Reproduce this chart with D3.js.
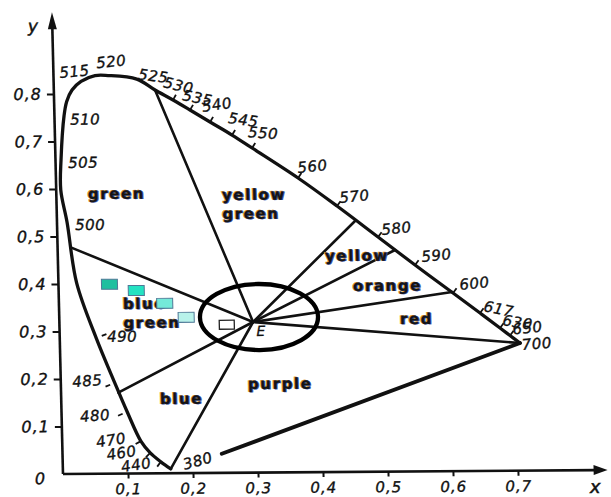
<!DOCTYPE html>
<html>
<head>
<meta charset="utf-8">
<script src="https://cdn.jsdelivr.net/npm/d3@7"></script>
<style>
  html, body { margin: 0; padding: 0; background: #fff; }
  svg { display: block; }
</style>
</head>
<body>
<svg id="chart" width="611" height="497"></svg>
<script>
// ---- Spectral locus (chromaticity x, y); null = unlabelled point
const locusNm = [380, 440, 460, 470, 480, 485, 490, null, 500, null, 505, 510, null, null, 515, null, 520, null,
                 525, 530, 535, 540, 545, 550, 560, 570, 580, 590, 600, 610, 630, 650, 700];
const locusLabel = ["380", "440", "460", "470", "480", "485", "490", "", "500", "", "505", "510", "", "", "515", "", "520", "",
                    "525", "530", "535", "540", "545", "550", "560", "570", "580", "590", "600", "617", "630", "650", "700"];
const locusX = [0.166, 0.151, 0.135, 0.121, 0.101, 0.083, 0.056, 0.028, 0.0155, 0.007, 0.0085, 0.0148, 0.0194, 0.028, 0.0422, 0.0639, 0.0839, 0.128,
                0.1557, 0.183, 0.2088, 0.2392, 0.2725, 0.3028, 0.3725, 0.4314, 0.4934, 0.5493, 0.6067, 0.6475, 0.6777, 0.6928, 0.7079];
const locusY = [0.009, 0.024, 0.043, 0.068, 0.130, 0.191, 0.286, 0.402, 0.530, 0.598, 0.661, 0.754, 0.784, 0.808, 0.826, 0.838, 0.838, 0.830,
                0.8068, 0.7855, 0.7642, 0.7386, 0.7109, 0.6833, 0.6194, 0.5598, 0.494, 0.4344, 0.3749, 0.3324, 0.3005, 0.2846, 0.2686];

// ---- White point E and the hue-region boundaries drawn from it to the locus
const whitePoint = [0.298, 0.317];
const boundaryX = [0.1557, 0.0202, 0.0881, 0.166, 0.4586, 0.519, 0.6052, 0.7079];
const boundaryY = [0.8068, 0.477, 0.1703, 0.009, 0.528, 0.4663, 0.377, 0.2686];

// ---- Line of purples: from 700 nm towards 380 nm
const purpleStart = [0.7079, 0.2686];
const purpleEnd = [0.245, 0.040];

// ---- Hue region names (first line anchor)
const regionLines = [["green"], ["yellow", "green"], ["yellow"], ["orange"], ["red"], ["purple"], ["blue"], ["blue", "green"]];
const regionX = [0.0486, 0.2547, 0.4109, 0.4529, 0.524, 0.2878, 0.1518, 0.0984];
const regionY = [0.5785, 0.5743, 0.4443, 0.3807, 0.3105, 0.176, 0.1458, 0.3464];

// ---- Sample colour points
const sampleX = [0.0785, 0.1195, 0.1628, 0.1953];
const sampleY = [0.3986, 0.3851, 0.3577, 0.3279];
const sampleFill = ["#1fbf9f", "#24e2c2", "#74e9d9", "#b8f2ea"];
const markerX = [0.2575];
const markerY = [0.3117];

// ---- Highlight ellipse round the white point (centre, half-axes)
const ellipseCentre = [0.3073, 0.3274];
const ellipseHalfAxes = [0.0908, 0.0695];

// ---- Axis ticks
const xTicks = [0.1, 0.2, 0.3, 0.4, 0.5, 0.6, 0.7];
const xTickLabels = ["0,1", "0,2", "0,3", "0,4", "0,5", "0,6", "0,7"];
const yTicks = [0, 0.1, 0.2, 0.3, 0.4, 0.5, 0.6, 0.7, 0.8];
const yTickLabels = ["0", "0,1", "0,2", "0,3", "0,4", "0,5", "0,6", "0,7", "0,8"];

// ---------------------------------------------------------------------------
const INK = "#111";
const svg = d3.select("#chart");
const x = d3.scaleLinear().domain([0, 1]).range([0, 650]);
const y = d3.scaleLinear().domain([0, 1]).range([0, -475]);

// The printed plate sits slightly askew on the page
const g = svg.append("g").attr("transform", "translate(63,474) skewX(1.37) skewY(-0.42)");

// ---- Axes
const yAxis = d3.axisLeft(y).tickValues(yTicks).tickFormat((d, i) => yTickLabels[i]).tickSize(7).tickPadding(5);
const ya = g.append("g").call(yAxis);
ya.select(".domain").remove();
ya.selectAll(".tick line").attr("stroke", INK).attr("stroke-width", 2);
ya.selectAll(".tick").filter(d => d === 0).select("line").remove();
ya.selectAll(".tick").filter(d => d === 0).select("text").attr("dy", "0.6em").attr("x", -17);

const xAxis = d3.axisBottom(x).tickValues(xTicks).tickFormat((d, i) => xTickLabels[i]).tickSize(5).tickPadding(5);
const xa = g.append("g").call(xAxis);
xa.select(".domain").remove();
xa.selectAll(".tick line").attr("stroke", INK).attr("stroke-width", 2);

[ya, xa].forEach(a => a.selectAll("text")
  .attr("font-family", "'DejaVu Sans', sans-serif")
  .attr("font-style", "italic")
  .attr("font-size", a === xa ? 15 : 16)
  .attr("letter-spacing", 1)
  .attr("fill", INK)
  .attr("stroke", INK)
  .attr("stroke-width", 0.35));
ya.attr("font-size", null).attr("font-family", null);
xa.attr("font-size", null).attr("font-family", null);

// axis lines with arrowheads
g.append("line").attr("x1", x(0)).attr("y1", y(0)).attr("x2", x(0)).attr("y2", y(0.95))
  .attr("stroke", INK).attr("stroke-width", 2.6);
g.append("path")
  .attr("d", `M${x(0)},${y(0.972)} L${x(0) - 4.5},${y(0.972) + 17} L${x(0) + 4.5},${y(0.972) + 17} Z`)
  .attr("fill", INK);
g.append("line").attr("x1", x(0)).attr("y1", y(0)).attr("x2", x(0.82)).attr("y2", y(0))
  .attr("stroke", INK).attr("stroke-width", 2.6);
g.append("path")
  .attr("d", `M${x(0.838)},${y(0)} L${x(0.838) - 14},${y(0) - 5} L${x(0.838) - 14},${y(0) + 5} Z`)
  .attr("fill", INK);

g.append("text").attr("x", x(-0.0375)).attr("y", y(0.931)).text("y")
  .attr("font-family", "'DejaVu Sans', sans-serif").attr("font-style", "italic")
  .attr("font-size", 17).attr("fill", INK).attr("stroke", INK).attr("stroke-width", 0.5);
g.append("text").attr("x", x(0.81)).attr("y", y(-0.048)).text("x")
  .attr("font-family", "'DejaVu Sans', sans-serif").attr("font-style", "italic")
  .attr("font-size", 18).attr("fill", INK).attr("stroke", INK).attr("stroke-width", 0.5);

// ---- Region boundaries from the white point
const E = [x(whitePoint[0]), y(whitePoint[1])];
g.append("g").selectAll("line").data(boundaryX.map((bx, i) => [bx, boundaryY[i]])).join("line")
  .attr("x1", E[0]).attr("y1", E[1])
  .attr("x2", d => x(d[0])).attr("y2", d => y(d[1]))
  .attr("stroke", INK).attr("stroke-width", 2.6).attr("stroke-linecap", "round");

// line of purples
g.append("line")
  .attr("x1", x(purpleStart[0])).attr("y1", y(purpleStart[1]))
  .attr("x2", x(purpleEnd[0])).attr("y2", y(purpleEnd[1]))
  .attr("stroke", INK).attr("stroke-width", 3.8).attr("stroke-linecap", "round");

// ---- Spectral locus
const locusPts = locusX.map((lx, i) => [x(lx), y(locusY[i])]);
g.append("path")
  .attr("d", d3.line().curve(d3.curveCatmullRom.alpha(0.5))(locusPts))
  .attr("fill", "none").attr("stroke", INK).attr("stroke-width", 3.3)
  .attr("stroke-linejoin", "round").attr("stroke-linecap", "round");

// wavelength tick dashes (outward normal; 490 points inward)
const tickOut = new Set([440, 460, 470, 480, 485, 530, 535, 540, 545, 550, 560, 570, 580, 590, 600, 610, 630, 650]);
const tickIn = new Set([490]);
locusNm.forEach((nm, i) => {
  if (nm === null || !(tickOut.has(nm) || tickIn.has(nm))) return;
  const a = locusPts[Math.max(0, i - 1)], b = locusPts[Math.min(locusPts.length - 1, i + 1)];
  let tx = b[0] - a[0], ty = b[1] - a[1];
  const len = Math.hypot(tx, ty); tx /= len; ty /= len;
  let nx = ty, ny = -tx;
  let r0 = 1, r1 = 6;
  if (tickIn.has(nm)) { nx = -nx; ny = -ny; r0 = 6; r1 = 11; }
  if ([480, 485].includes(nm)) { r0 = 5; r1 = 10; }
  const p = locusPts[i];
  g.append("line")
    .attr("x1", p[0] + nx * r0).attr("y1", p[1] + ny * r0)
    .attr("x2", p[0] + nx * r1).attr("y2", p[1] + ny * r1)
    .attr("stroke", INK).attr("stroke-width", 1.8);
});

// wavelength labels: [dx, dy, rotation] from the locus point
const labelOffset = {
  380: [14, 1, -15], 440: [-39, 10, -8], 460: [-43, 7, -8], 470: [-44, 6, -8], 480: [-47, 10, -4], 485: [-42, 4, -4],
  490: [11, 4, 0], 500: [8, 8, 0], 505: [7, 8, 0], 510: [6, 9, 0], 515: [-21, -3.5, -5], 520: [-11, -7.5, -5],
  525: [-17, -11, 8], 530: [-10, -13, 14], 535: [-8, -10, 12], 540: [-7, -10, -8], 545: [-4, -12, 8], 550: [-4, -11, 5],
  560: [0, -5, -5], 570: [3, -3, -5], 580: [4, -2, -5], 590: [7, -3, -5], 600: [7, -3, -5], 610: [3, -2, 12],
  630: [2, -3, 10], 650: [3, -1, -5], 700: [2, 7, -4]
};
locusNm.forEach((nm, i) => {
  if (nm === null) return;
  const [dx, dy, rot] = labelOffset[nm];
  const p = locusPts[i];
  g.append("text")
    .attr("transform", `translate(${p[0] + dx},${p[1] + dy}) rotate(${rot})`)
    .text(locusLabel[i])
    .attr("font-family", "'DejaVu Sans', sans-serif").attr("font-style", "italic")
    .attr("font-size", 15).attr("letter-spacing", 0.5)
    .attr("fill", INK).attr("stroke", INK).attr("stroke-width", 0.35);
});

// ---- Hue region names (with the soft colour fringe of the print)
function regionText(tx, ty, str) {
  const fringe = [["#e39a2c", -0.9, -0.4], ["#3a56b0", 0.9, 0.3], ["#151515", 0, 0]];
  fringe.forEach(([c, ox, oy]) => {
    g.append("text").attr("x", tx + ox).attr("y", ty + oy).text(str)
      .attr("font-family", "'DejaVu Sans', sans-serif").attr("font-weight", "bold")
      .attr("font-size", 15).attr("letter-spacing", 1.6).attr("fill", c)
      .attr("stroke", c).attr("stroke-width", 0.3);
  });
}
regionLines.forEach((lines, i) => {
  lines.forEach((str, j) => regionText(x(regionX[i]), y(regionY[i]) + j * 19, str));
});

// ---- Sample colour squares
g.append("g").selectAll("rect").data(sampleX.map((sx, i) => [sx, sampleY[i], sampleFill[i]])).join("rect")
  .attr("x", d => x(d[0]) - 8).attr("y", d => y(d[1]) - 5)
  .attr("width", 16).attr("height", 10)
  .attr("fill", d => d[2]).attr("stroke", "#4f7896").attr("stroke-width", 1);

g.append("g").selectAll("rect").data(markerX.map((mx, i) => [mx, markerY[i]])).join("rect")
  .attr("x", d => x(d[0]) - 7.5).attr("y", d => y(d[1]) - 4.5)
  .attr("width", 15).attr("height", 9)
  .attr("fill", "#fff").attr("stroke", "#222").attr("stroke-width", 1.3);

// ---- White point label
g.append("text").attr("x", E[0] + 3).attr("y", E[1] + 14).text("E")
  .attr("font-family", "'DejaVu Sans', sans-serif").attr("font-style", "italic")
  .attr("font-size", 14).attr("fill", INK).attr("stroke", INK).attr("stroke-width", 0.3);

// ---- Highlight ellipse
g.append("ellipse")
  .attr("cx", x(ellipseCentre[0])).attr("cy", y(ellipseCentre[1]))
  .attr("rx", x(ellipseHalfAxes[0]) - x(0)).attr("ry", y(0) - y(ellipseHalfAxes[1]))
  .attr("fill", "none").attr("stroke", "#000").attr("stroke-width", 4.3);
</script>
</body>
</html>
